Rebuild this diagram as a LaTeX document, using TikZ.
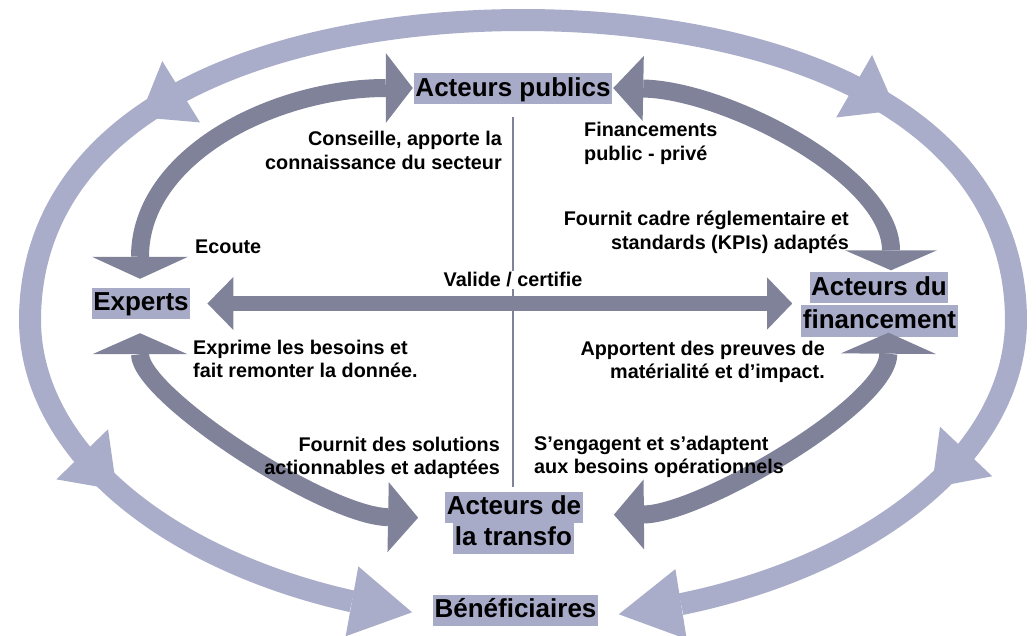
\documentclass[tikz,border=0pt]{standalone}
\usepackage{fontspec}
\setmainfont{Liberation Sans}
\usetikzlibrary{arrows.meta,calc}
\definecolor{ringcol}{RGB}{170,173,201}
\definecolor{flowcol}{RGB}{127,130,152}
\definecolor{boxcol}{RGB}{168,171,200}

\begin{document}
\begin{tikzpicture}[x=1pt,y=-1pt,
  box/.style={fill=boxcol, inner xsep=1.5pt, inner ysep=0pt,
    text height=23pt, text depth=8pt,
    font=\fontsize{26}{30}\selectfont\bfseries},
  lbl/.style={inner sep=0pt, font=\fontsize{19.8}{23.5}\selectfont\bfseries},
  ring/.style={draw=ringcol, line width=22pt},
  ringhead/.style={fill=ringcol},
  flow/.style={draw=flowcol, line width=18pt},
  declare function={
    ringx(\t)=523+493*cos(\t);
    ringy(\t)=320-300*(sin(\t)+0.2*max(sin(\t),0)*(1-sin(\t)));
  },
]
\useasboundingbox (0,0) rectangle (1036,636);

% actors
\node[box] (pub)  at (513,89)    {Acteurs publics};
\node[box] (exp)  at (141,303.5) {Experts};
\node[box] (finA) at (879,288)   {Acteurs du};
\node[box] (finB) at (879.5,321) {financement};
\node[box] (trA)  at (514,507)   {Acteurs de};
\node[box] (trB)  at (513.5,538) {la transfo};
\node[box] (ben)  at (515.5,610) {Bénéficiaires};

% outer ring: from the top down both sides to the beneficiaries
\draw[ring] plot[domain=-71.3:249.7, samples=140, smooth, variable=\t]
  ({ringx(\t)},{ringy(\t)});
% arrowheads along the ring (base angle / tip angle / half width)
\foreach \b/\e/\w in {133.9/141/36, 47.8/40.8/36, 206.6/214.5/36, -26/-34/36,
                      249.7/257/35.5, -71.3/-78.8/35.5}{
  \coordinate (hb) at ({ringx(\b)},{ringy(\b)});
  \coordinate (ht) at ({ringx(\e)},{ringy(\e)});
  \fill[ringhead] ($(hb)!\w pt!90:(ht)$) -- ($(hb)!\w pt!-90:(ht)$) -- (ht) -- cycle;
}

% inner exchanges
\coordinate (aP) at ($(pub.west)+(-1,-1)$);
\coordinate (aE) at ($(exp.north)+(-1,-9)$);
\coordinate (bP) at ($(pub.east)+(1,-1)$);
\coordinate (bF) at ($(finA.north)+(12,-2)$);
\coordinate (cE) at ($(exp.south)+(-1,14)$);
\coordinate (cT) at ($(trA.south west)+(-27,-5)$);
\coordinate (dF) at ($(finB.south)+(9,-4)$);
\coordinate (dT) at ($(trA.south east)+(31,-8)$);
\coordinate (hE) at ($(exp.east)+(17,0)$);
\coordinate (hF) at ($(hE -| finB.west)+(-9,0)$);

\draw[flow, {Triangle[length=27pt,width=70pt,line width=0pt]}-{Triangle[length=22pt,width=96pt,line width=0pt]}]
  (aP) .. controls (275,88) and (140,155) .. (aE);
\draw[flow, {Triangle[length=30pt,width=65pt,line width=0pt]}-{Triangle[length=20pt,width=92pt,line width=0pt]}]
  (bP) .. controls (725,90) and (891,175) .. (bF);
\draw[flow, {Triangle[length=21pt,width=95pt,line width=0pt]}-{Triangle[length=30pt,width=70pt,line width=0pt]}]
  (cE) .. controls (140,395) and (325,516) .. (cT);
\draw[flow, {Triangle[length=21pt,width=95pt,line width=0pt]}-{Triangle[length=30pt,width=70pt,line width=0pt]}]
  (dF) .. controls (888,405) and (700,514) .. (dT);
\draw[flow, line width=15pt, {Triangle[length=26pt,width=53pt,line width=0pt]}-{Triangle[length=25pt,width=52pt,line width=0pt]}]
  (hE) -- (hF);

% vertical divider
\coordinate (vTop) at ($(pub.south)+(0,12)$);
\draw[flowcol, line width=1.6pt] (vTop) -- ($(vTop |- trA.north)+(0,-4)$);

% exchange labels (anchored on the baseline of their last line)
\node[lbl, align=right, anchor=base east] (t1) at (502,169.5) {Conseille, apporte la\\connaissance du secteur};
\node[lbl, align=left, anchor=base west] (t2) at (584,160.5) {Financements\\public - privé};
\node[lbl, align=right, anchor=base east] (t3) at (849,249.5) {Fournit cadre réglementaire et\\standards (KPIs) adaptés};
\node[lbl, anchor=base west] (t4) at (195,254) {Ecoute};
\node[lbl, fill=white, inner sep=1.5pt, anchor=base] (t5) at (513,287) {Valide / certifie};
\node[lbl, align=left, anchor=base west] (t6) at (193,377.5) {Exprime les besoins et\\fait remonter la donnée.};
\node[lbl, align=right, anchor=base east] (t7) at (825,378.5) {Apportent des preuves de\\matérialité et d’impact.};
\node[lbl, align=right, anchor=base east] (t8) at (500,474.5) {Fournit des solutions\\actionnables et adaptées};
\node[lbl, align=left, anchor=base west] (t9) at (534,473.5) {S’engagent et s’adaptent\\aux besoins opérationnels};
\end{tikzpicture}
\end{document}
